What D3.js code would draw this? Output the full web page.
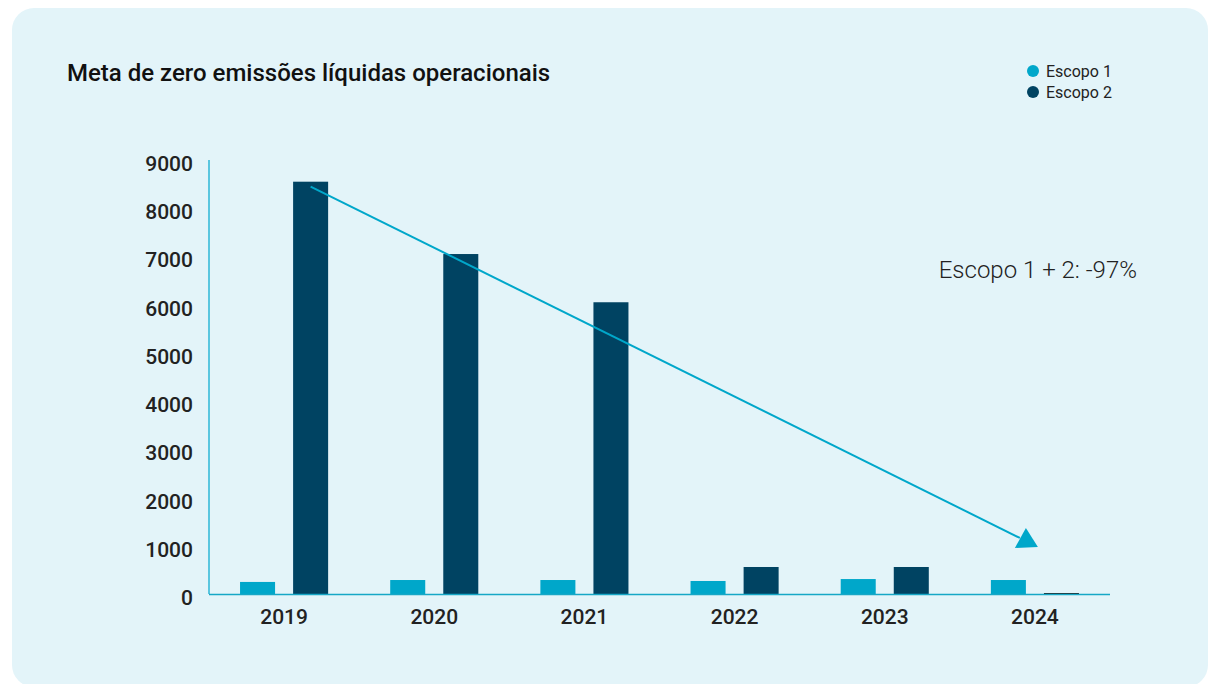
<!DOCTYPE html>
<html>
<head>
<meta charset="utf-8">
<script src="https://cdn.jsdelivr.net/npm/d3@7"></script>
<style>
  body { margin: 0; background: #ffffff; font-family: Roboto, "Noto Sans", sans-serif; }
</style>
</head>
<body>
<script>
(function (d3) {
  "use strict";

  /***** Data *****/
  var years = ["2019", "2020", "2021", "2022", "2023", "2024"];
  var seriesNames = ["Escopo 1", "Escopo 2"];
  var escopo1 = [250, 290, 290, 270, 310, 290];
  var escopo2 = [8550, 7050, 6050, 560, 560, 20];
  var yTicks = [0, 1000, 2000, 3000, 4000, 5000, 6000, 7000, 8000, 9000];
  var colors = ["#00a7ca", "#004362"];
  var annotationText = "Escopo 1 + 2: -97%";
  var trendStart = 8450;
  var trendEnd = 1100;

  /***** Configuration *****/
  var W = 1212, H = 684;
  var plot = { left: 209, right: 1110, top: 160, bottom: 594 };

  var svg = d3.select("body")
    .append("svg")
    .attr("width", W)
    .attr("height", H);

  // card background
  svg.append("rect")
    .attr("x", 12).attr("y", 8)
    .attr("width", 1196).attr("height", 679)
    .attr("rx", 22)
    .attr("fill", "#e3f4f9");

  /***** Scales *****/
  var x0 = d3.scaleBand().domain(years).range([plot.left, plot.right]).padding(0);
  var x1 = d3.scaleBand().domain(seriesNames).range([0, x0.bandwidth()])
    .paddingInner(0.34).paddingOuter(0.585);
  var y = d3.scaleLinear().domain([0, 9000]).range([plot.bottom, plot.top]);
  var color = d3.scaleOrdinal().domain(seriesNames).range(colors);

  var rows = years.map(function (yr, i) {
    return { year: yr, values: [
      { key: "Escopo 1", value: escopo1[i] },
      { key: "Escopo 2", value: escopo2[i] }
    ] };
  });

  /***** Title *****/
  svg.append("text")
    .attr("x", 67).attr("y", 81)
    .attr("font-size", 24)
    .attr("font-weight", 500)
    .attr("fill", "#111")
    .text("Meta de zero emissões líquidas operacionais");

  /***** Legend *****/
  var legend = svg.append("g").attr("transform", "translate(1033,71)");
  var li = legend.selectAll("g").data(seriesNames).enter().append("g")
    .attr("transform", function (d, i) { return "translate(0," + (i * 21) + ")"; });
  li.append("circle").attr("r", 6).attr("fill", function (d) { return color(d); });
  li.append("text").attr("x", 13).attr("dy", "0.35em")
    .attr("font-size", 16).attr("fill", "#222").text(function (d) { return d; });

  /***** Axes *****/
  var yAxis = d3.axisLeft(y).tickValues(yTicks).tickSize(0).tickPadding(16)
    .tickFormat(d3.format("d"));
  var gy = svg.append("g").attr("transform", "translate(" + plot.left + ",0)").call(yAxis);
  gy.select(".domain").remove();
  gy.selectAll("text")
    .attr("font-family", "Roboto, sans-serif")
    .attr("font-size", 21).attr("font-weight", 500)
    .attr("fill", "#222").attr("dy", "0.5em");

  var xAxis = d3.axisBottom(x0).tickSize(0).tickPadding(15);
  var gx = svg.append("g").attr("transform", "translate(0," + plot.bottom + ")").call(xAxis);
  gx.select(".domain").remove();
  gx.selectAll("text")
    .attr("font-family", "Roboto, sans-serif")
    .attr("font-size", 21).attr("font-weight", 500)
    .attr("fill", "#222");

  /***** Bars *****/
  var groups = svg.append("g").selectAll("g").data(rows).enter().append("g")
    .attr("transform", function (d) { return "translate(" + x0(d.year) + ",0)"; });
  groups.selectAll("rect").data(function (d) { return d.values; }).enter().append("rect")
    .attr("x", function (d) { return x1(d.key); })
    .attr("y", function (d) { return y(d.value); })
    .attr("width", x1.bandwidth())
    .attr("height", function (d) { return y(0) - y(d.value); })
    .attr("fill", function (d) { return d.value < 100 ? "#1d1d1d" : color(d.key); });

  // axis lines
  svg.append("line")
    .attr("x1", plot.left).attr("x2", plot.left)
    .attr("y1", plot.top).attr("y2", plot.bottom)
    .attr("stroke", "#5ac6df").attr("stroke-width", 2);
  svg.append("line")
    .attr("x1", plot.left).attr("x2", plot.right)
    .attr("y1", plot.bottom + 0.5).attr("y2", plot.bottom + 0.5)
    .attr("stroke", "#16a7c6").attr("stroke-width", 1.3);

  /***** Trend arrow *****/
  var sx = x0("2019") + x1("Escopo 2") + x1.bandwidth() / 2;
  var ex = x0("2024") + x1("Escopo 1") + x1.bandwidth();
  var sy = y(trendStart), ey = y(trendEnd);
  svg.append("line")
    .attr("x1", sx).attr("y1", sy)
    .attr("x2", ex - 6).attr("y2", ey - 3)
    .attr("stroke", "#00a7ca").attr("stroke-width", 2);
  svg.append("path")
    .attr("transform", "translate(" + ex + "," + ey + ")")
    .attr("d", "M0,-13L12,6L-11,7Z")
    .attr("fill", "#00a7ca");

  /***** Annotation *****/
  svg.append("text")
    .attr("x", 1137).attr("y", 278)
    .attr("text-anchor", "end")
    .attr("font-size", 24).attr("font-weight", 300)
    .attr("fill", "#222")
    .text(annotationText);

})(d3);
</script>
</body>
</html>
